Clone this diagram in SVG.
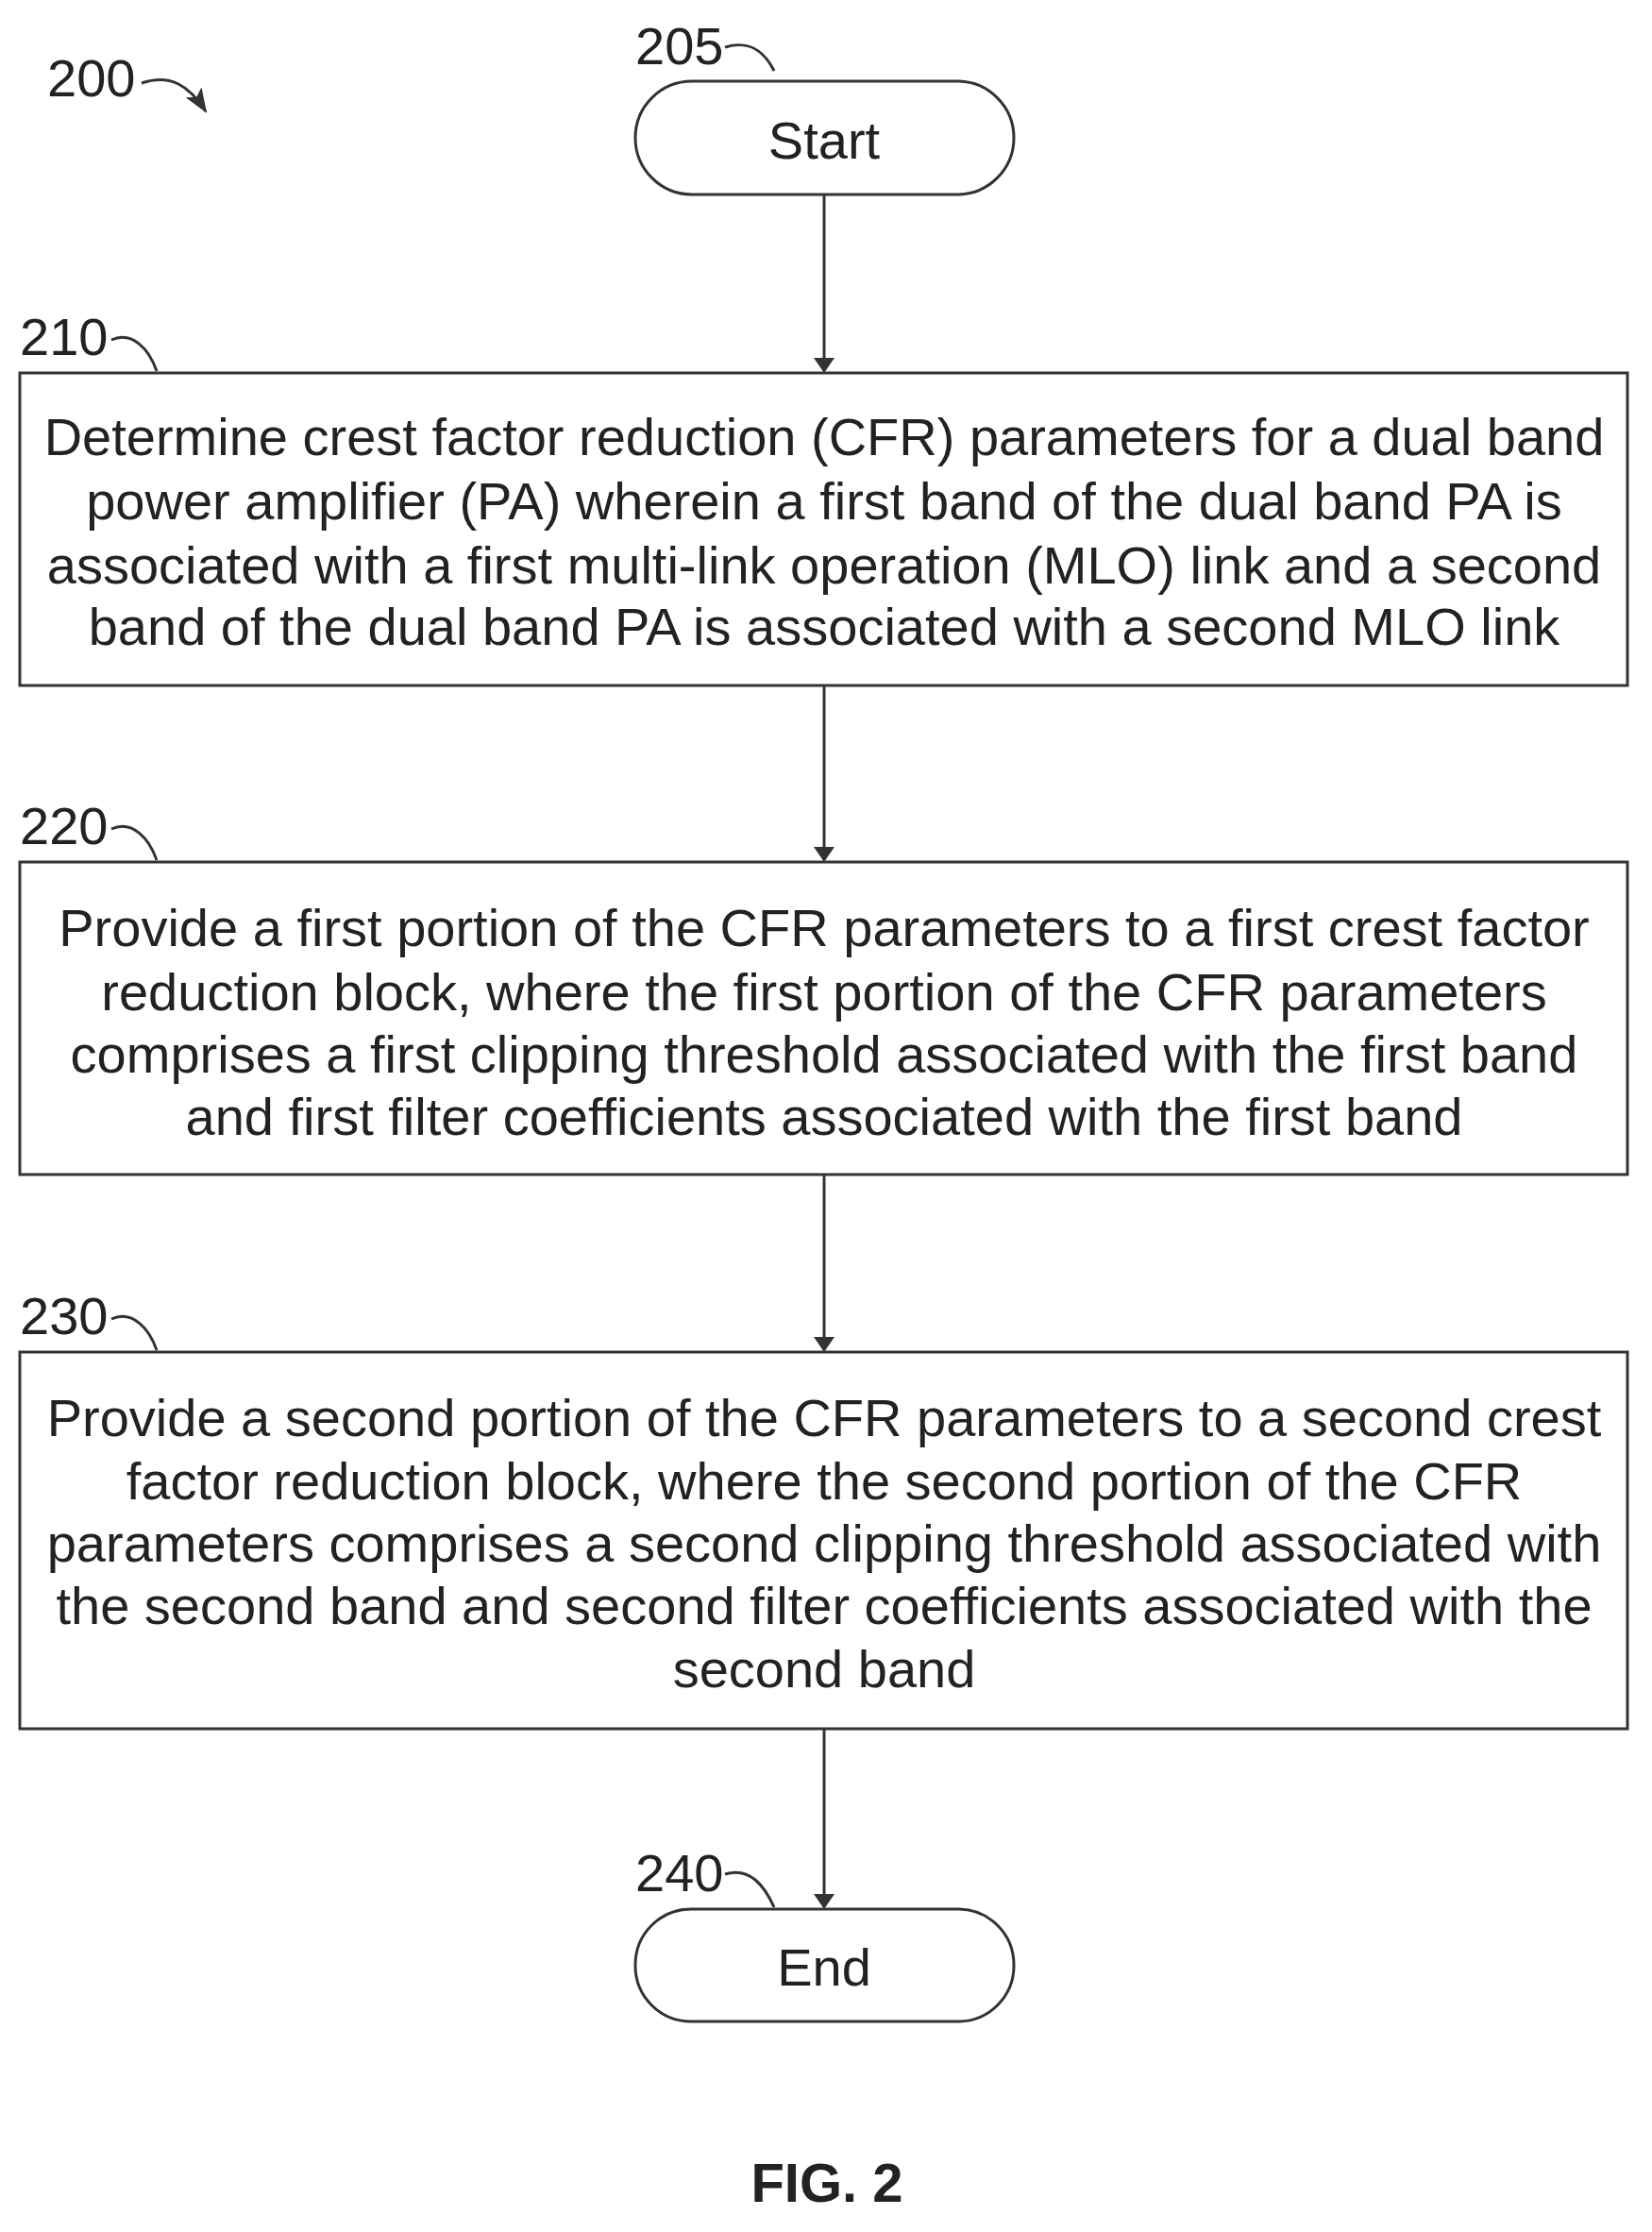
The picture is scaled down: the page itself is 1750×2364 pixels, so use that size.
<svg xmlns="http://www.w3.org/2000/svg" width="1750" height="2364" viewBox="0 0 1750 2364">
<defs>
<style>
text{font-family:"Liberation Sans",Arial,sans-serif;fill:#222;}
.t{font-size:56px;text-anchor:middle;}
.l{font-size:56px;}
.b{fill:#fff;stroke:#333;stroke-width:3;}
.c{fill:none;stroke:#333;stroke-width:3;}
</style>
<marker id="a" markerWidth="16" markerHeight="22" refX="14" refY="11" orient="auto" markerUnits="userSpaceOnUse"><path d="M0,0 L16,11 L0,22 Z" fill="#333"/></marker>
<marker id="a2" markerWidth="26" markerHeight="20" refX="24" refY="10" orient="auto" markerUnits="userSpaceOnUse"><path d="M0,0 L26,10 L0,20 L6,10 Z" fill="#333"/></marker>
</defs>
<g id="labels">
<text class="l" x="50" y="102">200</text>
<path class="c" d="M150,88 C180,78 200,90 218,118" marker-end="url(#a2)"/>
<text class="l" x="673" y="68">205</text>
<path class="c" d="M768,50 C795,42 810,55 820,75"/>
<text class="l" x="21" y="376">210</text>
<path class="c" d="M118,360 C140,350 158,370 166,393"/>
<text class="l" x="21" y="894">220</text>
<path class="c" d="M118,878 C140,868 158,888 166,911"/>
<text class="l" x="21" y="1413">230</text>
<path class="c" d="M118,1397 C140,1387 158,1407 166,1430"/>
<text class="l" x="673" y="2003">240</text>
<path class="c" d="M768,1985 C795,1977 810,1998 820,2020"/>
</g>
<g id="connectors">
<line class="c" x1="873" y1="206" x2="873" y2="393" marker-end="url(#a)"/>
<line class="c" x1="873" y1="726" x2="873" y2="911" marker-end="url(#a)"/>
<line class="c" x1="873" y1="1244" x2="873" y2="1430" marker-end="url(#a)"/>
<line class="c" x1="873" y1="1831" x2="873" y2="2020" marker-end="url(#a)"/>
</g>
<g id="n205"><rect class="b" x="673" y="86" width="401" height="120" rx="60"/><text class="t" x="873" y="168">Start</text></g>
<g id="n210"><rect class="b" x="21" y="395" width="1703" height="331"/>
<text class="t" x="873" y="482">Determine crest factor reduction (CFR) parameters for a dual band</text>
<text class="t" x="873" y="550">power amplifier (PA) wherein a first band of the dual band PA is</text>
<text class="t" x="873" y="618">associated with a first multi-link operation (MLO) link and a second</text>
<text class="t" x="873" y="683">band of the dual band PA is associated with a second MLO link</text></g>
<g id="n220"><rect class="b" x="21" y="913" width="1703" height="331"/>
<text class="t" x="873" y="1002">Provide a first portion of the CFR parameters to a first crest factor</text>
<text class="t" x="873" y="1070">reduction block, where the first portion of the CFR parameters</text>
<text class="t" x="873" y="1136">comprises a first clipping threshold associated with the first band</text>
<text class="t" x="873" y="1202">and first filter coefficients associated with the first band</text></g>
<g id="n230"><rect class="b" x="21" y="1432" width="1703" height="399"/>
<text class="t" x="873" y="1521">Provide a second portion of the CFR parameters to a second crest</text>
<text class="t" x="873" y="1588">factor reduction block, where the second portion of the CFR</text>
<text class="t" x="873" y="1654">parameters comprises a second clipping threshold associated with</text>
<text class="t" x="873" y="1720">the second band and second filter coefficients associated with the</text>
<text class="t" x="873" y="1787">second band</text></g>
<g id="n240"><rect class="b" x="673" y="2022" width="401" height="119" rx="59"/><text class="t" x="873" y="2103">End</text></g>
<text x="876" y="2332" style="font-size:58px;font-weight:bold;text-anchor:middle">FIG. 2</text>
</svg>
